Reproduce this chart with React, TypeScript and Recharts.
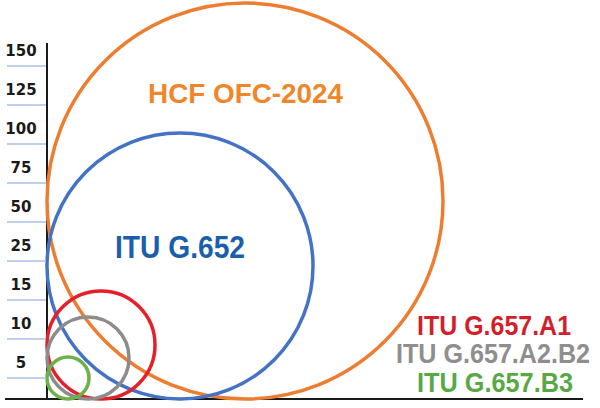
import { ScatterChart, Scatter, XAxis, YAxis, ReferenceLine, Customized } from 'recharts';

// bend radius circles, sizes (diagram units)
const CIRCLE_NAMES = ['HCF OFC-2024', 'ITU G.652', 'ITU G.657.A1', 'ITU G.657.A2.B2', 'ITU G.657.B3'];
const CIRCLE_RADII = [198, 133, 54, 41, 21];

// the y axis is illustrative: equally spaced labels, not a real scale
const Y_TICK_VALUES = [21, 60, 99, 138, 177, 216, 255, 294, 333];
const Y_TICK_LABELS = ['5', '10', '15', '25', '50', '75', '100', '125', '150'];

const COLORS: Record<string, string> = {
  'HCF OFC-2024': '#ED7D31',
  'ITU G.652': '#4472C4',
  'ITU G.657.A1': '#E3212B',
  'ITU G.657.A2.B2': '#8C8C8C',
  'ITU G.657.B3': '#6DB04A',
};
const TEXT_COLORS: Record<string, string> = {
  'HCF OFC-2024': '#F0862A',
  'ITU G.652': '#1B5EAB',
  'ITU G.657.A1': '#D21F2B',
  'ITU G.657.A2.B2': '#8E8E8E',
  'ITU G.657.B3': '#58A845',
};

const W = 600;
const H = 408;
const MARGIN = { top: 43, right: 17, bottom: 9, left: 4 };
const Y_AXIS_W = 1;
const X_DOMAIN: [number, number] = [-42, 536];
const Y_DOMAIN: [number, number] = [0, 356];

// pixel position of x=0 and y=0 (the two axes the circles rest on)
const PLOT_LEFT = MARGIN.left + Y_AXIS_W;
const PLOT_W = W - PLOT_LEFT - MARGIN.right;
const X0 = PLOT_LEFT + ((0 - X_DOMAIN[0]) / (X_DOMAIN[1] - X_DOMAIN[0])) * PLOT_W;
const Y0 = H - MARGIN.bottom;

const data = CIRCLE_NAMES.map((name, i) => ({ name, x: CIRCLE_RADII[i], y: CIRCLE_RADII[i] }));

const CircleShape = (props: any) => {
  const { cx, cy, payload } = props;
  const rx = cx - X0;
  const ry = Y0 - cy;
  return <ellipse cx={cx} cy={cy} rx={rx} ry={ry} fill="none" stroke={COLORS[payload.name]} strokeWidth={3.5} />;
};

const YTick = (props: any) => {
  const { y, payload } = props;
  const i = Y_TICK_VALUES.indexOf(payload.value);
  return (
    <g>
      <line x1={7} x2={46} y1={y} y2={y} stroke="#A9C1E3" strokeWidth={1.5} />
      <text x={21} y={y - 15} dy="0.36em" textAnchor="middle" fontFamily="DejaVu Sans" fontWeight="bold" fontSize={15} fill="#1a1a1a">
        {Y_TICK_LABELS[i]}
      </text>
    </g>
  );
};

// condensed bold label: scaled horizontally so it fits the width seen in the picture
const SX = 0.9;
const CondLabel = ({ x, y, size, width, name }: { x: number; y: number; size: number; width: number; name: string }) => (
  <g transform={`translate(${x},${y}) scale(${SX},1)`}>
    <text
      x={0}
      y={0}
      textAnchor="middle"
      fontSize={size}
      textLength={width / SX}
      lengthAdjust="spacingAndGlyphs"
      fontFamily='"Liberation Sans", Arial, sans-serif'
      fontWeight="bold"
      fill={TEXT_COLORS[name]}
    >
      {name}
    </text>
  </g>
);

const Labels = () => (
  <g>
    <CondLabel x={245.5} y={103} size={28} width={195} name="HCF OFC-2024" />
    <CondLabel x={180} y={258} size={31} width={130} name="ITU G.652" />
    <CondLabel x={494} y={335} size={27} width={154} name="ITU G.657.A1" />
    <CondLabel x={493} y={363} size={27} width={194} name="ITU G.657.A2.B2" />
    <CondLabel x={495} y={392} size={27} width={156} name="ITU G.657.B3" />
  </g>
);

export default function App() {
  return (
    <div style={{ position: 'absolute', left: 0, top: 0, width: W, height: H, background: '#fff' }}>
      <ScatterChart width={W} height={H} margin={MARGIN}>
        <XAxis type="number" dataKey="x" domain={X_DOMAIN} hide />
        <YAxis
          type="number"
          dataKey="y"
          domain={Y_DOMAIN}
          ticks={Y_TICK_VALUES}
          tick={YTick}
          interval={0}
          axisLine={false}
          tickLine={false}
          width={Y_AXIS_W}
        />
        <Scatter data={data} shape={<CircleShape />} isAnimationActive={false} />
        <ReferenceLine x={0} stroke="#1a1a1a" strokeWidth={2} ifOverflow="visible" />
        <ReferenceLine y={0} stroke="#1a1a1a" strokeWidth={2} ifOverflow="visible" />
        <Customized component={Labels} />
      </ScatterChart>
    </div>
  );
}
